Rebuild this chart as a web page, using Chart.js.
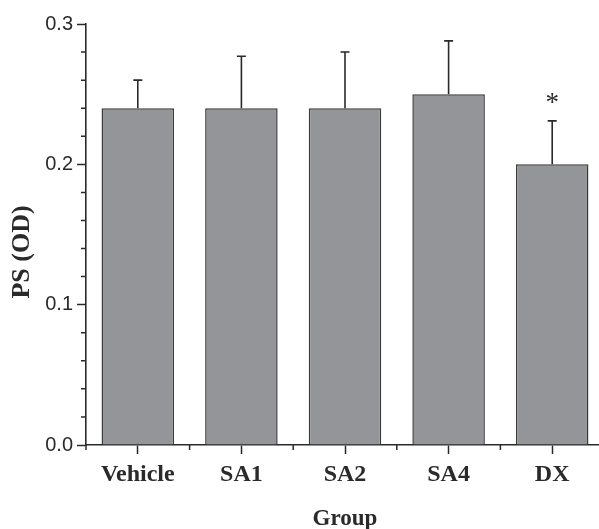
<!DOCTYPE html>
<html>
<head>
<meta charset="utf-8">
<script src="https://cdn.jsdelivr.net/npm/chart.js@4.4.1/dist/chart.umd.min.js"></script>
<style>
  html, body { margin: 0; padding: 0; background: #fff; overflow: hidden; }
  #wrap { width: 599px; height: 529px; overflow: hidden; }
</style>
</head>
<body>
<div id="wrap"><canvas id="chart" width="606" height="533"></canvas></div>
<script>
// values
const groups = ['Vehicle', 'SA1', 'SA2', 'SA4', 'DX'];
const means = [0.24, 0.24, 0.24, 0.25, 0.20];
const errors = [0.020, 0.037, 0.040, 0.038, 0.031];
const marks = ['', '', '', '', '*'];
const yTicks = [0.0, 0.1, 0.2, 0.3];

const INK = '#2b2a2a';

// error bars (upper only), significance marks, minor ticks, y title
const extras = {
    id: 'extras',
    afterDatasetsDraw(chart) {
        const ctx = chart.ctx;
        const y = chart.scales.y;
        const x = chart.scales.x;
        const meta = chart.getDatasetMeta(0);

        ctx.save();
        ctx.strokeStyle = INK;
        ctx.lineWidth = 1.6;
        meta.data.forEach((bar, i) => {
            const top = y.getPixelForValue(means[i] + errors[i]);
            ctx.beginPath();
            ctx.moveTo(bar.x, bar.y);
            ctx.lineTo(bar.x, top);
            ctx.moveTo(bar.x - 4.5, top);
            ctx.lineTo(bar.x + 4.5, top);
            ctx.stroke();

            if (marks[i]) {
                ctx.fillStyle = INK;
                ctx.font = '27px "Liberation Serif"';
                ctx.textAlign = 'center';
                ctx.textBaseline = 'middle';
                ctx.fillText(marks[i], bar.x, top - 17);
            }
        });

        // minor ticks on y (every 0.02)
        ctx.lineWidth = 1.5;
        ctx.beginPath();
        for (let k = 1; k < 15; k++) {
            if (k % 5 === 0) continue;
            const py = y.getPixelForValue(k * 0.02);
            ctx.moveTo(x.left - 5, py);
            ctx.lineTo(x.left, py);
        }
        // minor ticks on x at category boundaries
        for (let i = 0; i <= groups.length; i++) {
            const px = x.getPixelForValue(i - 0.5);
            ctx.moveTo(px, y.bottom);
            ctx.lineTo(px, y.bottom + 5);
        }
        ctx.stroke();

        // y axis title
        ctx.translate(22, 252);
        ctx.rotate(-Math.PI / 2);
        ctx.fillStyle = INK;
        ctx.font = 'bold 26px "Liberation Serif"';
        ctx.textAlign = 'center';
        ctx.textBaseline = 'middle';
        ctx.fillText('PS (OD)', 0, 0);
        ctx.restore();
    }
};

new Chart(document.getElementById('chart'), {
    type: 'bar',
    data: {
        labels: groups,
        datasets: [{
            data: means,
            backgroundColor: '#939598',
            borderColor: '#3a3a3a',
            borderWidth: 1.5,
            borderSkipped: 'bottom',
            categoryPercentage: 1,
            barPercentage: 0.7
        }]
    },
    options: {
        responsive: false,
        animation: false,
        devicePixelRatio: 1,
        layout: { padding: { top: 24, right: 2, left: 0, bottom: 0 } },
        plugins: { legend: { display: false }, tooltip: { enabled: false } },
        scales: {
            x: {
                afterFit: s => { s.height = 88; },
                grid: {
                    offset: false,
                    drawOnChartArea: false,
                    tickLength: 9,
                    tickWidth: 1.5,
                    tickColor: INK
                },
                border: { color: INK, width: 1.6 },
                ticks: {
                    color: INK,
                    padding: 6,
                    font: { family: '"Liberation Serif"', size: 24, weight: 'bold' }
                },
                title: {
                    display: true,
                    text: 'Group',
                    color: INK,
                    padding: { top: 0, bottom: 0 },
                    font: { family: '"Liberation Serif"', size: 23, weight: 'bold' }
                }
            },
            y: {
                min: 0,
                max: 0.3,
                afterFit: s => { s.width = 86; },
                afterBuildTicks: s => { s.ticks = yTicks.map(v => ({ value: v })); },
                grid: {
                    drawOnChartArea: false,
                    tickLength: 9,
                    tickWidth: 1.5,
                    tickColor: INK
                },
                border: { color: INK, width: 1.6 },
                ticks: {
                    color: INK,
                    padding: 4,
                    callback: v => v.toFixed(1),
                    font: { family: '"Liberation Sans"', size: 20 }
                }
            }
        }
    },
    plugins: [extras]
});
</script>
</body>
</html>
